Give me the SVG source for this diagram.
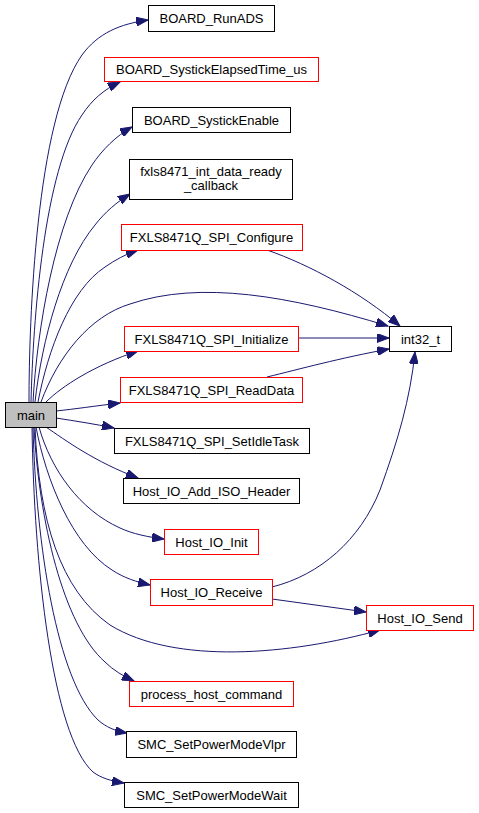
<svg xmlns="http://www.w3.org/2000/svg" width="479" height="813" viewBox="0 0 479 813">
<style>
.n rect{fill:#fff;stroke:#000;stroke-width:1}
.n.r rect{stroke:#ff0000}
.n.m rect{fill:#bfbfbf}
text{font-family:"Liberation Sans",Arial,sans-serif;font-size:13px;fill:#000;text-anchor:middle}
.e path{fill:none;stroke:#191970;stroke-width:1;marker-end:url(#ah)}
</style>
<defs>
<marker id="ah" markerUnits="userSpaceOnUse" markerWidth="13" markerHeight="9" refX="12" refY="4.5" orient="auto">
<path d="M0,0 L12,4.5 L0,9 Z" fill="#191970" stroke="#191970" stroke-width="1"/>
</marker>
</defs>
<rect width="479" height="813" fill="#fff"/>
<g class="e" id="edges">
<path d="M29,402 C29,320 36,120 82,55 C98,33 120,24 148,20"/>
<path d="M31,402 C33,320 44,170 82,115 C92,100 103,90 120,82"/>
<path d="M33,402 C37,330 55,220 92,165 C102,150 116,136 132,127"/>
<path d="M35,402 C42,340 62,265 95,225 C105,212 117,202 130,194"/>
<path d="M38,402 C48,350 70,290 105,267 C115,260 126,254 138,250"/>
<path d="M41,402 C58,356 90,316 130,304 C200,280 290,296 388,326"/>
<path d="M46,402 C62,386 95,365 138,351"/>
<path d="M56,411 C75,409 95,406 120,403"/>
<path d="M56,418 C75,421 95,424 114,428"/>
<path d="M46,427 C65,440 95,462 138,478"/>
<path d="M39,427 C51,470 80,510 120,528 C133,534 148,537 164,539"/>
<path d="M36,427 C46,480 72,545 112,570 C124,578 137,582 150,585"/>
<path d="M35,427 C39,520 60,590 110,625 C175,665 290,655 380,630"/>
<path d="M34,427 C39,520 63,625 105,662 C113,670 123,676 134,681"/>
<path d="M33,427 C36,545 57,680 98,720 C106,727 115,731 127,733"/>
<path d="M32,427 C34,565 52,735 93,772 C101,778 111,781 124,783"/>
<path d="M267,250 C310,265 360,292 400,326"/>
<path d="M298,338 L389,338"/>
<path d="M267,377 C300,369 340,358 389,349"/>
<path d="M272,587 C320,575 360,540 380,490 C398,440 410,400 415,352"/>
<path d="M272,599 L366,612"/>
</g>
<g class="n m" id="main"><rect x="5.5" y="402.5" width="51" height="25"/><text x="31" y="419.5">main</text></g>
<g class="n" id="BOARD_RunADS"><rect x="148.5" y="5.5" width="126" height="26"/><text x="211.5" y="23">BOARD_RunADS</text></g>
<g class="n r" id="BOARD_SystickElapsedTime_us"><rect x="104.5" y="57.5" width="214" height="24"/><text x="211.5" y="74">BOARD_SystickElapsedTime_us</text></g>
<g class="n" id="BOARD_SystickEnable"><rect x="132.5" y="107.5" width="158" height="25"/><text x="211.5" y="124.5">BOARD_SystickEnable</text></g>
<g class="n" id="fxls8471_int_data_ready_callback"><rect x="129.5" y="159.5" width="163" height="40"/><text x="211" y="176">fxls8471_int_data_ready</text><text x="211" y="190">_callback</text></g>
<g class="n r" id="FXLS8471Q_SPI_Configure"><rect x="121.5" y="224.5" width="181" height="26"/><text x="211.5" y="242">FXLS8471Q_SPI_Configure</text></g>
<g class="n" id="int32_t"><rect x="389.5" y="326.5" width="62" height="25"/><text x="420.5" y="343.5">int32_t</text></g>
<g class="n r" id="FXLS8471Q_SPI_Initialize"><rect x="124.5" y="326.5" width="174" height="25"/><text x="211.5" y="343.5">FXLS8471Q_SPI_Initialize</text></g>
<g class="n r" id="FXLS8471Q_SPI_ReadData"><rect x="120.5" y="377.5" width="182" height="25"/><text x="211.5" y="394.5">FXLS8471Q_SPI_ReadData</text></g>
<g class="n" id="FXLS8471Q_SPI_SetIdleTask"><rect x="114.5" y="428.5" width="195" height="25"/><text x="212" y="445.5">FXLS8471Q_SPI_SetIdleTask</text></g>
<g class="n" id="Host_IO_Add_ISO_Header"><rect x="123.5" y="478.5" width="176" height="25"/><text x="211.5" y="495.5">Host_IO_Add_ISO_Header</text></g>
<g class="n r" id="Host_IO_Init"><rect x="164.5" y="529.5" width="94" height="25"/><text x="211.5" y="546.5">Host_IO_Init</text></g>
<g class="n r" id="Host_IO_Receive"><rect x="150.5" y="579.5" width="122" height="26"/><text x="211.5" y="597">Host_IO_Receive</text></g>
<g class="n r" id="Host_IO_Send"><rect x="366.5" y="605.5" width="107" height="25"/><text x="420" y="622.5">Host_IO_Send</text></g>
<g class="n r" id="process_host_command"><rect x="129.5" y="681.5" width="164" height="25"/><text x="211.5" y="698.5">process_host_command</text></g>
<g class="n" id="SMC_SetPowerModeVlpr"><rect x="126.5" y="731.5" width="170" height="26"/><text x="211.5" y="749">SMC_SetPowerModeVlpr</text></g>
<g class="n" id="SMC_SetPowerModeWait"><rect x="124.5" y="782.5" width="174" height="25"/><text x="211.5" y="799.5">SMC_SetPowerModeWait</text></g>
</svg>
